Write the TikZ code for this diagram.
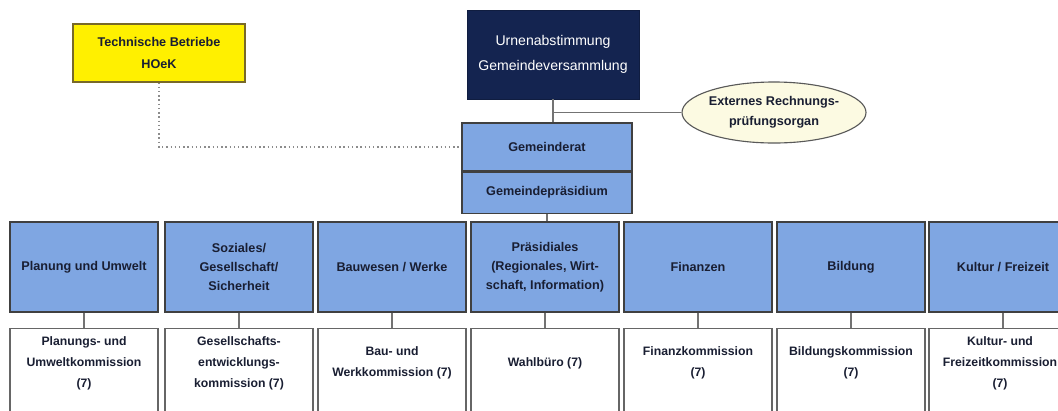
\documentclass[tikz,border=0pt]{standalone}
\usepackage{fontspec}
\setmainfont{Liberation Sans}
\usetikzlibrary{positioning,shapes.geometric}

\definecolor{deptblue}{RGB}{127,166,226}
\definecolor{navy}{RGB}{20,36,80}
\definecolor{tbyellow}{RGB}{255,240,0}
\definecolor{tbborder}{RGB}{120,105,40}
\definecolor{cream}{RGB}{252,250,226}
\definecolor{textdark}{RGB}{25,30,50}

\tikzset{
  dept/.style={draw=black!75, line width=0.8pt, fill=deptblue, align=center,
    minimum width=3.7cm, minimum height=2.25cm, inner sep=1pt, text=textdark,
    font=\bfseries\fontsize{9}{13.5}\selectfont},
  komm/.style={draw=black!60, line width=0.8pt, fill=white, anchor=north,
    minimum width=3.7cm, minimum height=2.5cm},
  kommtext/.style={align=center, inner sep=0pt, text=textdark,
    font=\bfseries\fontsize{8.7}{15}\selectfont},
  link/.style={draw=black!55, line width=0.8pt},
}

\begin{document}
\begin{tikzpicture}[x=0.025cm, y=-0.025cm]

% page size in pixels:
\useasboundingbox (0,0) rectangle (1058,410);

% top of the organisation
\node[draw=navy!80!black, fill=navy, text=white, align=center,
  minimum width=4.3cm, minimum height=2.225cm,
  font=\fontsize{10}{17.5}\selectfont] (urne) at (553,54.5)
  {Urnenabstimmung\\Gemeindeversammlung};

\node[draw=tbborder, line width=0.8pt, fill=tbyellow, align=center,
  minimum width=4.3cm, minimum height=1.45cm, text=textdark,
  font=\bfseries\fontsize{9}{15.5}\selectfont] (tb) at (159,53)
  {Technische Betriebe\\HOeK};

\node[draw=black!65, line width=0.8pt, fill=cream, ellipse, align=center,
  minimum width=3.8cm, minimum height=1.525cm, inner sep=0pt, text=textdark,
  font=\bfseries\fontsize{9}{14}\selectfont] (rpk) at (774,112.5)
  {Externes Rechnungs-\\prüfungsorgan};

\node[draw=black!75, line width=0.8pt, fill=deptblue, text=textdark,
  minimum width=4.25cm, minimum height=1.2cm,
  font=\bfseries\fontsize{9}{14}\selectfont] (rat) at (547,147) {Gemeinderat};
\node[draw=black!75, line width=0.8pt, fill=deptblue, text=textdark,
  minimum width=4.25cm, minimum height=1.025cm, below=0pt of rat,
  font=\bfseries\fontsize{9}{14}\selectfont] (praes) {Gemeindepräsidium};

\coordinate (abzw) at (urne.south |- rpk.west);
\draw[link] (urne.south) -- (urne.south |- rat.north);
\draw[link] (abzw) -- (rpk.west);
\draw[black!45, line width=1pt, dotted] (tb.south) |- (rat.west);

% departments and their commissions
\foreach \x/\tx/\i/\dtext/\ktext in {
  84/84/1/{Planung und Umwelt}/{Planungs- und\\Umweltkommission\\(7)},
  239/239/2/{Soziales/\\Gesellschaft/\\Sicherheit}/{Gesellschafts-\\entwicklungs-\\kommission (7)},
  392/392/3/{Bauwesen / Werke}/{Bau- und\\Werkkommission (7)},
  545/545/4/{Präsidiales\\(Regionales, Wirt-\\schaft, Information)}/{Wahlbüro (7)},
  698/698/5/{Finanzen}/{Finanzkommission\\(7)},
  851/851/6/{Bildung}/{Bildungskommission\\(7)},
  1003/1000/7/{Kultur / Freizeit}/{Kultur- und\\Freizeitkommission\\(7)}}{
  \node[dept] (dep\i) at (\x,267) {\dtext};
  \node[komm] (kom\i) at (\x,328) {};
  \node[kommtext] (kt\i) at (\tx,363) {\ktext};
  \draw[link] (dep\i.south) -- (kom\i.north);
}

\draw[link] (praes.south) -- (praes.south |- dep4.north);

\end{tikzpicture}
\end{document}
